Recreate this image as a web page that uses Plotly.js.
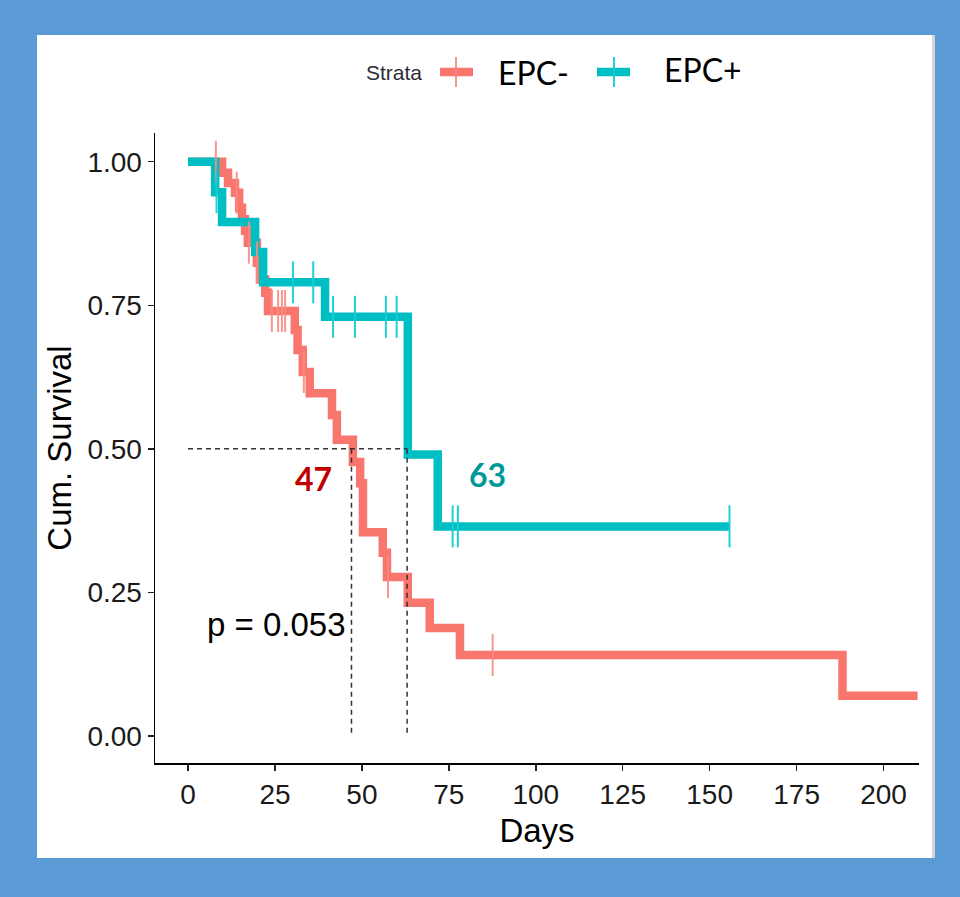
<!DOCTYPE html>
<html>
<head>
<meta charset="utf-8">
<script src="https://cdn.plot.ly/plotly-3.0.1.min.js"></script>
<style>
  html, body { margin: 0; padding: 0; background: #5B9BD5; width: 960px; height: 897px; overflow: hidden; }
  #panel { position: absolute; left: 37px; top: 35px; width: 895px; height: 823px; background: #ffffff; border-right: 3px solid #d6d6d6; }
  #chart { position: absolute; left: 0; top: 0; width: 960px; height: 897px; }
</style>
</head>
<body>
<div id="panel"></div>
<div id="chart"></div>
<script>
// ---- data ----
const strata = ["EPC-", "EPC+"];

const epcNegTime = [0, 9.8, 11.5, 13.5, 14.7, 15.5, 16.4, 17.2, 19.8, 20.7, 22.2, 23.0, 30.7, 31.5, 33.0, 35.0, 41.4, 42.8, 47.4, 49.5, 50.3, 56.0, 57.2, 63.2, 69.5, 78.2, 188.2, 209.8];
const epcNegSurv = [1.0, 0.981, 0.963, 0.946, 0.920, 0.900, 0.880, 0.859, 0.824, 0.795, 0.772, 0.740, 0.707, 0.672, 0.634, 0.597, 0.559, 0.516, 0.477, 0.440, 0.355, 0.319, 0.277, 0.232, 0.188, 0.141, 0.070, 0.070];
const epcNegCensTime = [8.0, 14.0, 17.5, 19.8, 24.1, 25.9, 27.0, 27.9, 33.3, 57.5, 87.6];
const epcNegCensSurv = [1.0, 0.946, 0.859, 0.824, 0.740, 0.740, 0.740, 0.740, 0.634, 0.277, 0.141];

const epcPosTime = [0, 7.8, 9.8, 19.3, 21.6, 39.4, 63.2, 71.8, 155.7];
const epcPosSurv = [1.0, 0.947, 0.895, 0.843, 0.790, 0.730, 0.490, 0.365, 0.365];
const epcPosCensTime = [8.2, 30.2, 36.0, 41.7, 48.0, 56.9, 60.0, 76.1, 77.6, 155.7];
const epcPosCensSurv = [0.947, 0.790, 0.790, 0.730, 0.730, 0.730, 0.730, 0.365, 0.365, 0.365];

const medianDays = [47, 63];
const medianSurv = 0.5;
const pValueText = "p = 0.053";

const xTickVals = [0, 25, 50, 75, 100, 125, 150, 175, 200];
const xTickText = ["0", "25", "50", "75", "100", "125", "150", "175", "200"];
const yTickVals = [0, 0.25, 0.5, 0.75, 1.0];
const yTickText = ["0.00", "0.25", "0.50", "0.75", "1.00"];

// ---- style ----
const colNeg = "#F8766D";
const colPos = "#00BFC4";
const W = 960, H = 897;
const M = { l: 155, r: 41, t: 133, b: 134 };
const plotW = W - M.l - M.r, plotH = H - M.t - M.b;
const px2x = p => (p - M.l) / plotW;
const px2y = p => (H - M.b - p) / plotH;

const traces = [
  { x: epcNegTime, y: epcNegSurv, type: "scatter", mode: "lines", line: { shape: "hv", color: colNeg, width: 8.5 }, name: strata[0], hoverinfo: "skip" },
  { x: epcPosTime, y: epcPosSurv, type: "scatter", mode: "lines", line: { shape: "hv", color: colPos, width: 8.5 }, name: strata[1], hoverinfo: "skip" },
  { x: epcNegCensTime, y: epcNegCensSurv, type: "scatter", mode: "markers",
    marker: { symbol: "line-ns", size: 30, color: colNeg, line: { color: "rgba(248,140,130,0.9)", width: 2 } }, hoverinfo: "skip" },
  { x: epcPosCensTime, y: epcPosCensSurv, type: "scatter", mode: "markers",
    marker: { symbol: "line-ns", size: 30, color: colPos, line: { color: "rgba(20,205,210,0.95)", width: 2 } }, hoverinfo: "skip" },
  // median lines
  { x: [0, medianDays[1]], y: [medianSurv, medianSurv], type: "scatter", mode: "lines",
    line: { color: "#333333", width: 1.5, dash: "5px,4px" }, hoverinfo: "skip" },
  { x: [medianDays[0], medianDays[0]], y: [medianSurv, 0], type: "scatter", mode: "lines",
    line: { color: "#333333", width: 1.5, dash: "5px,4px" }, hoverinfo: "skip" },
  { x: [medianDays[1], medianDays[1]], y: [medianSurv, 0], type: "scatter", mode: "lines",
    line: { color: "#333333", width: 1.5, dash: "5px,4px" }, hoverinfo: "skip" }
];

const axisFont = { family: "Liberation Sans, Arial, sans-serif", size: 28, color: "#1a1a1a" };

const layout = {
  width: W, height: H,
  margin: M,
  paper_bgcolor: "rgba(0,0,0,0)",
  plot_bgcolor: "rgba(0,0,0,0)",
  showlegend: false,
  xaxis: {
    range: [-9.5, 210.2], showgrid: false, zeroline: false,
    showline: true, linecolor: "#000", linewidth: 1.5,
    ticks: "outside", ticklen: 6, tickwidth: 1.5, tickcolor: "#222",
    tickvals: xTickVals, ticktext: xTickText, tickfont: axisFont,
    title: { text: "Days", font: { family: "Liberation Sans, Arial, sans-serif", size: 33, color: "#000" }, standoff: 10 }
  },
  yaxis: {
    range: [-0.047, 1.05], showgrid: false, zeroline: false,
    showline: true, linecolor: "#000", linewidth: 1.5,
    ticks: "outside", ticklen: 6, tickwidth: 1.5, tickcolor: "#222",
    tickvals: yTickVals, ticktext: yTickText, tickfont: axisFont,
    title: { text: "Cum. Survival", font: { family: "Liberation Sans, Arial, sans-serif", size: 33, color: "#000" }, standoff: 6 }
  },
  annotations: [
    { x: 36.1, y: 0.448, xref: "x", yref: "y", text: "<b>47</b>", showarrow: false,
      font: { family: "Lato, Open Sans, sans-serif", size: 32, color: "#C00000" } },
    { x: 86.2, y: 0.455, xref: "x", yref: "y", text: "<b>63</b>", showarrow: false,
      font: { family: "Lato, Open Sans, sans-serif", size: 32, color: "#009999" } },
    { x: 25.3, y: 0.195, xref: "x", yref: "y", text: pValueText, showarrow: false,
      font: { family: "Liberation Sans, Arial, sans-serif", size: 33, color: "#000" } },
    // legend texts
    { x: px2x(424), y: px2y(73), xref: "paper", yref: "paper", xanchor: "right", yanchor: "middle", text: "Strata", showarrow: false,
      font: { family: "Liberation Sans, Arial, sans-serif", size: 21, color: "#2b2b36" } },
    { x: px2x(496), y: px2y(73), xref: "paper", yref: "paper", xanchor: "left", yanchor: "middle", text: strata[0], showarrow: false,
      font: { family: "Lato, Open Sans, sans-serif", size: 32, color: "#000" } },
    { x: px2x(662), y: px2y(70), xref: "paper", yref: "paper", xanchor: "left", yanchor: "middle", text: strata[1], showarrow: false,
      font: { family: "Lato, Open Sans, sans-serif", size: 32, color: "#000" } }
  ],
  shapes: [
    { type: "line", xref: "paper", yref: "paper", x0: px2x(440), x1: px2x(473), y0: px2y(72), y1: px2y(72), line: { color: colNeg, width: 8.5 } },
    { type: "line", xref: "paper", yref: "paper", x0: px2x(456), x1: px2x(456), y0: px2y(57), y1: px2y(87), line: { color: "rgba(248,140,130,0.9)", width: 2 } },
    { type: "line", xref: "paper", yref: "paper", x0: px2x(597), x1: px2x(630), y0: px2y(72), y1: px2y(72), line: { color: colPos, width: 8.5 } },
    { type: "line", xref: "paper", yref: "paper", x0: px2x(614), x1: px2x(614), y0: px2y(57), y1: px2y(87), line: { color: "rgba(20,205,210,0.95)", width: 2 } }
  ]
};

Plotly.newPlot("chart", traces, layout, { staticPlot: true, displayModeBar: false });
</script>
</body>
</html>
